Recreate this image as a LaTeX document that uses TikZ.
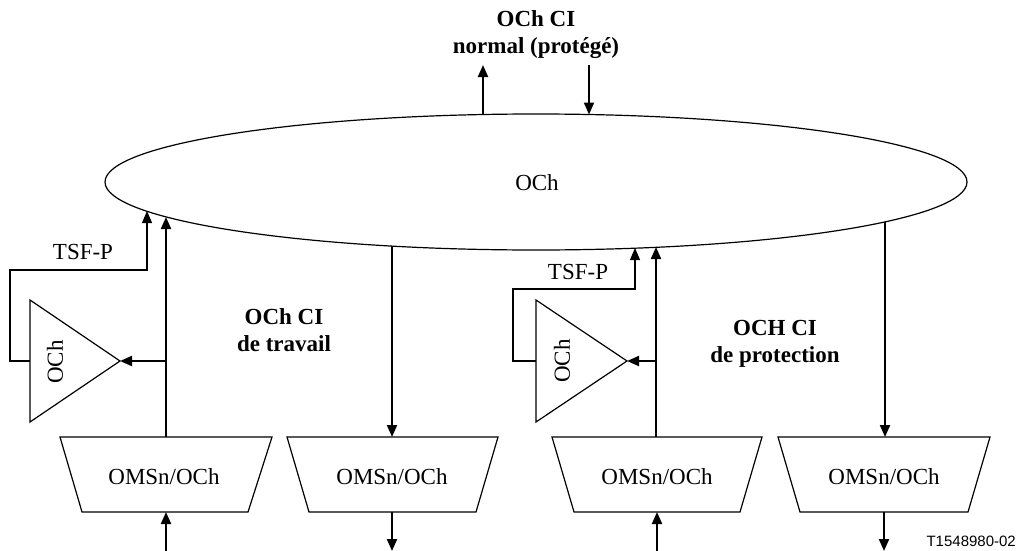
\documentclass[tikz,border=0pt]{standalone}
\usepackage{fontspec}
\setmainfont{Liberation Serif}
\newfontfamily\labelsans{Liberation Sans}
\usetikzlibrary{arrows.meta,shapes.geometric}
\begin{document}
\begin{tikzpicture}[x=1pt,y=-1pt,
  txt/.style={font=\fontsize{23}{27}\selectfont, inner sep=0pt, align=center},
  btxt/.style={font=\fontsize{23}{27}\selectfont\bfseries, inner sep=0pt, align=center},
  shapeline/.style={draw=black, line width=1.2pt, line join=miter},
  thinline/.style={draw=black, line width=1.1pt},
  thickline/.style={draw=black, line width=2pt},
  tip/.style={-{Triangle[length=12pt,width=10pt]}}
]
\useasboundingbox (0,0) rectangle (1022,551);

% ellipse
\node[ellipse, shapeline, minimum width=862pt, minimum height=136pt, inner sep=0pt] (och) at (536,182) {};
\node[txt] (ochlbl) at (537,183) {OCh};

% top texts
\node[btxt] (topci) at (536,35) {OCh CI\\normal (protégé)};
\coordinate (etopL) at (483,114.5);
\coordinate (etopR) at (589,114.5);
\coordinate (topL) at (483,65);
\coordinate (topR) at (589,65);
\draw[thickline,tip] (etopL) -- (topL);
\draw[thickline,tip] (topR) -- (etopR);

% points on ellipse bottom
\coordinate (eA) at (147,211);
\coordinate (eB) at (166,217);
\coordinate (eC) at (392,246);
\coordinate (eD) at (635,248);
\coordinate (eE) at (656,247);
\coordinate (eF) at (885,222);

% trapezoids
\draw[shapeline] (60,437) -- (272,437) -- (248,512) -- (82,512) -- cycle;
\node[txt] (t1) at (164,477) {OMSn/OCh};
\draw[shapeline] (287,437) -- (498,437) -- (476,512) -- (309,512) -- cycle;
\node[txt] (t2) at (392,477) {OMSn/OCh};
\draw[shapeline] (552,437) -- (762,437) -- (740,512) -- (574,512) -- cycle;
\node[txt] (t3) at (657,477) {OMSn/OCh};
\draw[shapeline] (778,437) -- (990,437) -- (968,512) -- (800,512) -- cycle;
\node[txt] (t4) at (884,477) {OMSn/OCh};

\coordinate (t1top) at (166,437);
\coordinate (t1bot) at (166,512);
\coordinate (t2top) at (392,437);
\coordinate (t2bot) at (392,512);
\coordinate (t3top) at (656,437);
\coordinate (t3bot) at (657,512);
\coordinate (t4top) at (885,437);
\coordinate (t4bot) at (884,512);
\coordinate (b1) at (166,551);
\coordinate (b2) at (392,551);
\coordinate (b3) at (657,551);
\coordinate (b4) at (884,551);

% triangles
\draw[shapeline] (30,300) -- (120,361) -- (30,422) -- cycle;
\coordinate (apexL) at (120,361);
\node[txt, rotate=90] (trL) at (55,362) {OCh};
\draw[shapeline] (536,300) -- (627,361) -- (536,422) -- cycle;
\coordinate (apexR) at (627,361);
\node[txt, rotate=90] (trR) at (562,361) {OCh};

% TSF-P loops
\node[txt] (tsfL) at (83,252) {TSF-P};
\node[txt] (tsfR) at (578,272) {TSF-P};
\coordinate (loopL) at (30,361);
\coordinate (loopR) at (536,361);
\draw[thinline,tip] (loopL) -- (10,361) -- (10,270) -- (147,270) -- (eA);
\draw[thinline,tip] (loopR) -- (513,361) -- (513,289) -- (635,289) -- (eD);

% main verticals
\coordinate (brL) at (166,361);
\coordinate (brR) at (656,361);
\draw[thickline,tip] (t1top) -- (eB);
\draw[thickline,tip] (brL) -- (apexL);
\draw[thickline,tip] (t3top) -- (eE);
\draw[thickline,tip] (brR) -- (apexR);

% downs from ellipse
\draw[thickline,tip] (eC) -- (t2top);
\draw[thickline,tip] (eF) -- (t4top);

% bottom arrows
\draw[thickline,tip] (b1) -- (t1bot);
\draw[thickline,tip] (t2bot) -- (b2);
\draw[thickline,tip] (b3) -- (t3bot);
\draw[thickline,tip] (t4bot) -- (b4);

% labels
\node[btxt] (ciW) at (284,330) {OCh CI\\de travail};
\node[btxt] (ciP) at (775,344) {OCH CI\\de protection};
\node[font=\labelsans\fontsize{15}{18}\selectfont, inner sep=0pt, anchor=east] (ref) at (1016,541) {T1548980-02};
\end{tikzpicture}
\end{document}
